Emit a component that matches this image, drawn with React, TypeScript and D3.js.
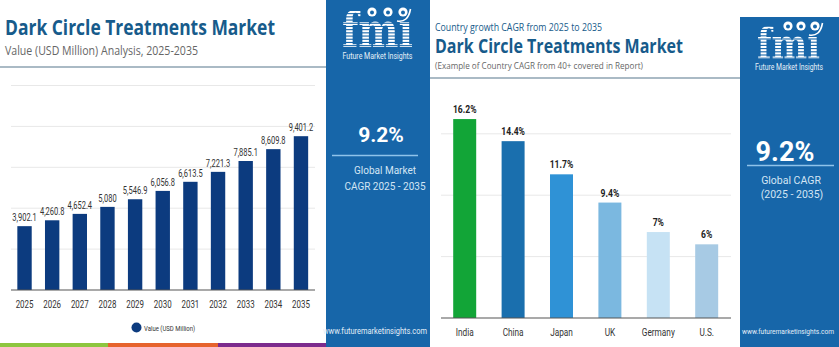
import React from "react";
import * as d3 from "d3";

const years = ["2025","2026","2027","2028","2029","2030","2031","2032","2033","2034","2035"];
const marketValues = [3902.1, 4260.8, 4652.4, 5080, 5546.9, 6056.8, 6613.5, 7221.3, 7885.1, 8609.8, 9401.2];
const valueLabels = ["3,902.1","4,260.8","4,652.4","5,080","5,546.9","6,056.8","6,613.5","7,221.3","7,885.1","8,609.8","9,401.2"];
const leftTicks = [2500, 5000, 7500, 10000, 12500];

const countries = ["India","China","Japan","UK","Germany","U.S."];
const countryCagr = [16.2, 14.4, 11.7, 9.4, 7, 6];
const countryLabels = ["16.2%","14.4%","11.7%","9.4%","7%","6%"];
const countryColors = ["#12a537","#1a6fae","#2f92d6","#7bb8e0","#c6e2f4","#a7cae4"];
const rightTicks = [5, 10, 15];

const BLUE = "#1766a9";
const TITLE = "#175b8b";
const FONT = "Roboto, 'Open Sans', sans-serif";
const TFONT = "'Open Sans', Roboto, sans-serif";

function CText({ x, y, sx = 0.75, size, weight = 400, fill = "#333", anchor = "middle", children }: any) {
  return (
    <text transform={`translate(${x},${y}) scale(${sx},1)`} fontFamily={FONT} fontSize={size}
      fontWeight={weight} fill={fill} textAnchor={anchor}>{children}</text>
  );
}

function Logo({ id, x, y, w, size, circY, circX }: any) {
  const top = y - size * 0.75;
  const stripes = d3.range(top, y + 2, 3.2);
  return (
    <g>
      <defs>
        <clipPath id={id}>
          <text x={x} y={y} fontFamily="'DejaVu Serif', 'Liberation Serif', serif" fontWeight={700}
            fontSize={size} textLength={w} lengthAdjust="spacingAndGlyphs">fmı</text>
        </clipPath>
      </defs>
      <g clipPath={`url(#${id})`}>
        {stripes.map((s, i) => (
          <rect key={i} x={x - 2} y={s} width={w + 4} height={2.1} fill="#fff" />
        ))}
      </g>
      {circX.map((cx: number, i: number) => (
        <g key={i}>
          <circle cx={cx} cy={circY} r={4.6} fill="#fff" />
          <circle cx={cx} cy={circY + 0.5} r={2} fill={BLUE} />
        </g>
      ))}
      <path d={`M${circX[2] - 6},${circY + 9} Q${circX[2] + 5},${circY + 11} ${circX[2] + 7.5},${circY - 3}`}
        fill="none" stroke="#fff" strokeWidth={1.6} />
    </g>
  );
}

export default function App() {
  const xL = d3.scaleBand<string>().domain(years).range([10.7, 314.8]).paddingInner(0.48).paddingOuter(0.24);
  const yL = d3.scaleLinear().domain([0, 12500]).range([290, 85.5]);

  const xR = d3.scaleBand<string>().domain(countries).range([440.5, 730.9]).paddingInner(0.525).paddingOuter(0.2625);
  const yR = d3.scaleLinear().domain([0, 20]).range([318, 72.4]);

  return (
    <svg width={839} height={347} style={{ position: "absolute", left: 0, top: 0, background: "#fff" }}>
      <rect x={0} y={0} width={839} height={347} fill="#fff" />

      {/* LEFT PANEL */}
      <text x={5} y={35} fontFamily={TFONT} fontWeight={700} fontSize={21} fill={TITLE}
        textLength={270} lengthAdjust="spacingAndGlyphs">Dark Circle Treatments Market</text>
      <text x={5} y={55} fontFamily={TFONT} fontSize={12} fill="#666"
        textLength={193} lengthAdjust="spacingAndGlyphs">Value (USD Million) Analysis, 2025-2035</text>
      <line x1={0} x2={326} y1={67} y2={67} stroke="#8ea3b2" strokeWidth={1.5} />

      {leftTicks.map((t) => (
        <line key={t} x1={11} x2={315} y1={yL(t)} y2={yL(t)} stroke="#e8e8e8" strokeWidth={1} />
      ))}
      {years.map((yr, i) => (
        <rect key={yr} x={xL(yr)} y={yL(marketValues[i])} width={xL.bandwidth()}
          height={yL(0) - yL(marketValues[i])} fill="#0c3b7f" />
      ))}
      <line x1={11} x2={315} y1={yL(0)} y2={yL(0)} stroke="#555" strokeWidth={1.2} />
      {years.map((yr, i) => (
        <CText key={"v" + yr} x={xL(yr)! + xL.bandwidth() / 2} y={yL(marketValues[i]) - 5} size={10} sx={0.75} fill="#333">
          {valueLabels[i]}
        </CText>
      ))}
      {years.map((yr) => (
        <CText key={"y" + yr} x={xL(yr)! + xL.bandwidth() / 2} y={308} size={11} sx={0.72} fill="#333">{yr}</CText>
      ))}
      <circle cx={136.5} cy={327.5} r={5} fill="#0c3b7f" />
      <CText x={144} y={330.5} size={7.5} sx={0.8} anchor="start" fill="#333">Value (USD Million)</CText>

      <rect x={0} y={343} width={108} height={4} fill="#8dc63f" />
      <rect x={108} y={343} width={110} height={4} fill="#e6632d" />
      <rect x={218} y={343} width={108} height={4} fill="#7c2b8d" />

      {/* LEFT SIDEBAR */}
      <rect x={326} y={0} width={104} height={347} fill={BLUE} />
      <Logo id="logoL" x={342} y={47} w={71} size={48} circY={12} circX={[372, 388, 403]} />
      <text x={377.5} y={58.5} fontFamily={FONT} fontSize={8.5} fill="#e6f0f8" textAnchor="middle"
        textLength={70} lengthAdjust="spacingAndGlyphs">Future Market Insights</text>
      <text x={381} y={141.5} fontFamily={FONT} fontWeight={700} fontSize={21} fill="#fff" textAnchor="middle">9.2%</text>
      <line x1={332} x2={418} y1={155.5} y2={155.5} stroke="#8fc3ea" strokeWidth={1.5} />
      <text x={385} y={174} fontFamily={FONT} fontSize={10} fill="#d3e5f4" textAnchor="middle">Global Market</text>
      <text x={385} y={190} fontFamily={FONT} fontSize={10} fill="#d3e5f4" textAnchor="middle">CAGR 2025 - 2035</text>
      <text x={375} y={334} fontFamily={FONT} fontSize={8.5} fill="#e3eef8" textAnchor="middle"
        textLength={104} lengthAdjust="spacingAndGlyphs">www.futuremarketinsights.com</text>

      {/* RIGHT PANEL */}
      <text x={435} y={31} fontFamily={TFONT} fontSize={11} fill={TITLE}
        textLength={167} lengthAdjust="spacingAndGlyphs">Country growth CAGR from 2025 to 2035</text>
      <text x={435} y={53} fontFamily={TFONT} fontWeight={700} fontSize={19} fill={TITLE}
        textLength={248} lengthAdjust="spacingAndGlyphs">Dark Circle Treatments Market</text>
      <text x={435} y={68.5} fontFamily={TFONT} fontSize={9.5} fill="#666"
        textLength={208} lengthAdjust="spacingAndGlyphs">(Example of Country CAGR from 40+ covered in Report)</text>
      <line x1={430} x2={740} y1={78} y2={78} stroke="#8ea3b2" strokeWidth={1.5} />

      {rightTicks.map((t) => (
        <line key={t} x1={441} x2={731} y1={yR(t)} y2={yR(t)} stroke="#e8e8e8" strokeWidth={1} />
      ))}
      {countries.map((c, i) => (
        <rect key={c} x={xR(c)} y={yR(countryCagr[i])} width={xR.bandwidth()}
          height={yR(0) - yR(countryCagr[i])} fill={countryColors[i]} />
      ))}
      <line x1={441} x2={731} y1={yR(0)} y2={yR(0)} stroke="#555" strokeWidth={1.2} />
      {countries.map((c, i) => (
        <CText key={"l" + c} x={xR(c)! + xR.bandwidth() / 2} y={yR(countryCagr[i]) - 6} size={11} weight={700} sx={0.78} fill="#222">
          {countryLabels[i]}
        </CText>
      ))}
      {countries.map((c) => (
        <CText key={"c" + c} x={xR(c)! + xR.bandwidth() / 2} y={336} size={11} sx={0.75} fill="#333">{c}</CText>
      ))}

      {/* RIGHT SIDEBAR */}
      <rect x={740} y={17} width={99} height={330} fill={BLUE} />
      <Logo id="logoR" x={757} y={59} w={63} size={43} circY={26} circX={[788, 801, 815]} />
      <text x={789} y={70} fontFamily={FONT} fontSize={8.5} fill="#e6f0f8" textAnchor="middle"
        textLength={68} lengthAdjust="spacingAndGlyphs">Future Market Insights</text>
      <text x={785} y={161} fontFamily={FONT} fontWeight={700} fontSize={27} fill="#fff" textAnchor="middle">9.2%</text>
      <line x1={747} x2={834} y1={165.5} y2={165.5} stroke="#8fc3ea" strokeWidth={1.5} />
      <text x={791} y={184} fontFamily={FONT} fontSize={10.5} fill="#d3e5f4" textAnchor="middle">Global CAGR</text>
      <text x={792} y={197.5} fontFamily={FONT} fontSize={10.5} fill="#d3e5f4" textAnchor="middle">(2025 - 2035)</text>
      <text x={788} y={334} fontFamily={FONT} fontSize={6.8} fill="#e3eef8" textAnchor="middle"
        textLength={92} lengthAdjust="spacingAndGlyphs">www.futuremarketinsights.com</text>
    </svg>
  );
}
